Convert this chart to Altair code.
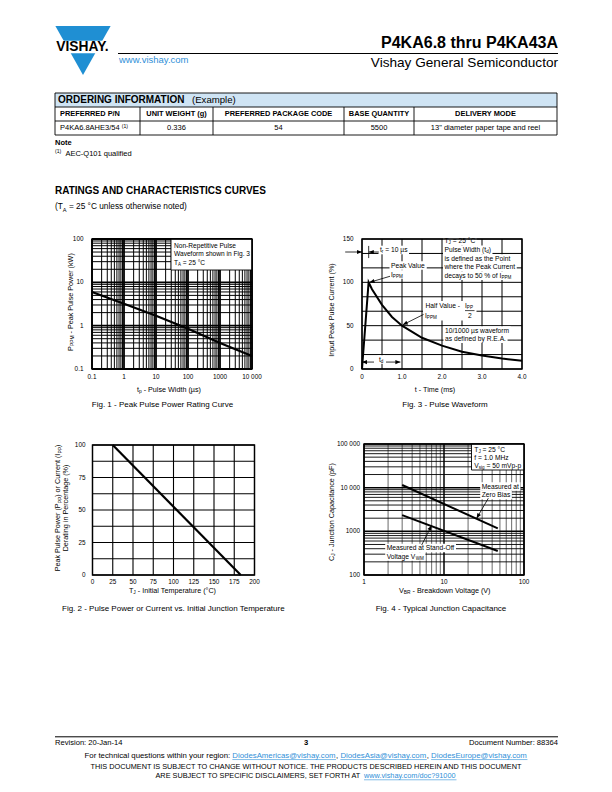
import math
import altair as alt
import pandas as pd

OX, OY = 8, 8
W, H = 596, 776
FONT = "Liberation Sans"
BLUE = "#1f8fd3"
LINK = "#2f8fd8"
HEAD = "M0,0L0.42,1L-0.42,1Z"
TRI = "M-1,-0.888L1,-0.888L0,0.888Z"

# ---------------- data ----------------
tbl_head = ["PREFERRED P/N", "UNIT WEIGHT (g)", "PREFERRED PACKAGE CODE", "BASE QUANTITY", "DELIVERY MODE"]
tbl_row = ["P4KA6.8AHE3/54", "0.336", "54", "5500", "13\" diameter paper tape and reel"]

fig1_tp = [0.1, 1, 10, 100, 1000, 10000]
fig1_ppm = [6.0, 3.2, 1.7, 0.85, 0.4, 0.2]
fig1_xt = [0.1, 1, 10, 100, 1000, 10000]
fig1_xl = ["0.1", "1", "10", "100", "1000", "10 000"]
fig1_yt = [0.1, 1, 10, 100]
fig1_yl = ["0.1", "1", "10", "100"]

fig3_t = [0, 0.165, 0.25, 0.5, 0.75, 1.0, 1.5, 2.0, 2.5, 3.0, 3.5, 4.0]
fig3_i = [0, 100, 92, 74, 60, 50, 36, 27, 20, 15.5, 12, 9.5]
fig3_xt = [0, 1, 2, 3, 4]
fig3_xl = ["0", "1.0", "2.0", "3.0", "4.0"]
fig3_yt = [0, 50, 100, 150]
fig3_yl = ["0", "50", "100", "150"]

fig2_tj = [25, 183]
fig2_pct = [100, 0]
fig2_xt = [0, 25, 50, 75, 100, 125, 150, 175, 200]
fig2_xl = ["0", "25", "50", "75", "100", "125", "150", "175", "200"]
fig2_yt = [0, 25, 50, 75, 100]
fig2_yl = ["0", "25", "50", "75", "100"]

fig4_vbr = [3, 47]
fig4_cj_zero = [11500, 1170]
fig4_cj_vwm = [2350, 355]
fig4_xt = [1, 10, 100]
fig4_xl = ["1", "10", "100"]
fig4_yt = [100, 1000, 10000, 100000]
fig4_yl = ["100", "1000", "10 000", "100 000"]

# annotation arrows (data coordinates)
f3_peak_t, f3_peak_i = [0.7, 0.19], [107, 100]
f3_half_t, f3_half_i = [1.54, 1.02], [63, 51]
f4_zero_v, f4_zero_c = [35.8, 25.6], [5720, 1990]
f4_vwm_v, f4_vwm_c = [5.26, 7.0], [487, 1352]

# ---------------- helpers ----------------
_W = {' ': 278, '!': 278, '"': 355, '%': 889, "'": 191, '(': 333, ')': 333, ',': 278, '-': 333,
      '.': 278, '/': 278, ':': 278, '=': 584, '?': 556, '@': 1015, '°': 400, 'µ': 576}
for _c in "0123456789":
    _W[_c] = 556
_W.update(dict(A=667, B=667, C=722, D=722, E=667, F=611, G=778, H=722, I=278, J=500, K=667, L=556,
               M=833, N=722, O=778, P=667, Q=778, R=722, S=667, T=611, U=722, V=667, W=944, X=667,
               Y=667, Z=611))
_W.update(dict(a=556, b=556, c=500, d=556, e=556, f=278, g=556, h=556, i=222, j=222, k=500, l=222,
               m=833, n=556, o=556, p=556, q=556, r=333, s=500, t=278, u=556, v=500, w=722, x=500,
               y=500, z=500))


def tw(s, size, bold=False):
    return sum(_W.get(c, 556) for c in s) / 1000.0 * size * (1.05 if bold else 1.0)


def one():
    return pd.DataFrame({"k": [0]})


def txt(s, x, y, size=7.0, bold=False, align="left", color="black", angle=None, baseline="middle"):
    kw = dict(text=s, font=FONT, fontSize=size, align=align, baseline=baseline, color=color)
    if bold:
        kw["fontWeight"] = "bold"
    if angle is not None:
        kw["angle"] = angle
    return alt.Chart(one()).mark_text(**kw).encode(x=alt.value(x - OX), y=alt.value(y - OY))


def hline(x0, x1, y, w=1.0, color="black"):
    return alt.Chart(one()).mark_rule(color=color, strokeWidth=w).encode(
        x=alt.value(x0 - OX), x2=alt.value(x1 - OX), y=alt.value(y - OY))


def vline(x, y0, y1, w=1.0, color="black"):
    return alt.Chart(one()).mark_rule(color=color, strokeWidth=w).encode(
        x=alt.value(x - OX), y=alt.value(y0 - OY), y2=alt.value(y1 - OY))


def rect(x0, y0, x1, y1, fill="white", stroke=None, sw=1.0, fo=1.0):
    kw = dict(fill=fill, fillOpacity=fo)
    if stroke:
        kw.update(stroke=stroke, strokeWidth=sw)
    return alt.Chart(one()).mark_rect(**kw).encode(
        x=alt.value(x0 - OX), x2=alt.value(x1 - OX), y=alt.value(y0 - OY), y2=alt.value(y1 - OY))


def rich(pieces, x, y, size=7.0, align="left", bold=False, angle=None, bg=False, under=False):
    items = []
    for p in pieces:
        if isinstance(p, str):
            p = (p, "n")
        s, mode = p[0], p[1]
        color = p[2] if len(p) > 2 else "black"
        ps = size * 0.68 if mode in ("sub", "sup") else size
        items.append((s, mode, color, ps, tw(s, ps, bold)))
    total = sum(i[4] for i in items)
    start = {"left": 0, "center": -total / 2, "right": -total}[align]
    out = []
    if bg and angle is None:
        out.append(rect(x + start - 1.5, y - size * 0.64, x + start + total + 1.5, y + size * 0.64))
    cur = start
    for s, mode, color, ps, w in items:
        off = {"n": 0, "sub": size * 0.32, "sup": -size * 0.32}[mode]
        lead = tw(s[: len(s) - len(s.lstrip(" "))], ps, bold)   # blanks are trimmed by the renderer
        core = s.strip(" ")
        cw = tw(core, ps, bold)
        if core:
            if angle is None:
                out.append(txt(core, x + cur + lead, y + off, ps, bold, "left", color))
                if under and color != "black":
                    out.append(hline(x + cur + lead, x + cur + lead + cw, y + size * 0.52, 0.6, color))
            else:
                out.append(txt(core, x + off, y - cur - lead, ps, bold, "left", color, angle=angle))
        cur += w
    return out


class Fig:
    def __init__(self, x0, x1, y0, y1, xd, yd, xt="linear", yt="linear"):
        self.x0, self.x1, self.y0, self.y1 = x0, x1, y0, y1
        self.xd, self.yd, self.xt, self.yt = xd, yd, xt, yt
        self.sx = alt.Scale(type=xt, domain=xd, range=[x0 - OX, x1 - OX], nice=False)
        self.sy = alt.Scale(type=yt, domain=yd, range=[y1 - OY, y0 - OY], nice=False)

    @staticmethod
    def _f(v, d, t):
        if t == "log":
            return (math.log10(v) - math.log10(d[0])) / (math.log10(d[1]) - math.log10(d[0]))
        return (v - d[0]) / (d[1] - d[0])

    def px(self, v):
        return self.x0 + self._f(v, self.xd, self.xt) * (self.x1 - self.x0)

    def py(self, v):
        return self.y1 - self._f(v, self.yd, self.yt) * (self.y1 - self.y0)

    def X(self, f):
        return alt.X(f, scale=self.sx, axis=None)

    def Y(self, f):
        return alt.Y(f, scale=self.sy, axis=None)

    def vgrid(self, vals, w=1.0, color="black"):
        return alt.Chart(pd.DataFrame({"v": vals})).mark_rule(color=color, strokeWidth=w).encode(
            x=self.X("v:Q"), y=alt.value(self.y0 - OY), y2=alt.value(self.y1 - OY))

    def hgrid(self, vals, w=1.0, color="black"):
        return alt.Chart(pd.DataFrame({"v": vals})).mark_rule(color=color, strokeWidth=w).encode(
            y=self.Y("v:Q"), x=alt.value(self.x0 - OX), x2=alt.value(self.x1 - OX))

    def line(self, xs, ys, w=2.0, color="black"):
        return alt.Chart(pd.DataFrame({"a": xs, "b": ys})).mark_line(color=color, strokeWidth=w).encode(
            x=self.X("a:Q"), y=self.Y("b:Q"))

    def arrow(self, xs, ys, w=0.8, L=5.0):
        dx = self.px(xs[-1]) - self.px(xs[-2])
        dy = self.py(ys[-1]) - self.py(ys[-2])
        ang = (math.degrees(math.atan2(dx, -dy)) + 360.0) % 360.0
        head = alt.Chart(pd.DataFrame({"a": [xs[-1]], "b": [ys[-1]]})).mark_point(
            shape=HEAD, filled=True, color="black", size=(2 * L) ** 2, angle=ang, opacity=1,
            strokeWidth=0).encode(x=self.X("a:Q"), y=self.Y("b:Q"))
        return [self.line(xs, ys, w), head]

    def xlab(self, vals, labs, y, size=6.4):
        return alt.Chart(pd.DataFrame({"v": vals, "l": labs})).mark_text(
            font=FONT, fontSize=size, align="center", baseline="middle", color="black").encode(
            x=self.X("v:Q"), y=alt.value(y - OY), text="l:N")

    def ylab(self, vals, labs, x, size=6.4):
        return alt.Chart(pd.DataFrame({"v": vals, "l": labs})).mark_text(
            font=FONT, fontSize=size, align="right", baseline="middle", color="black").encode(
            y=self.Y("v:Q"), x=alt.value(x - OX), text="l:N")

    def frame(self, sw=1.4):
        return rect(self.x0, self.y0, self.x1, self.y1, fill="white", stroke="black", sw=sw, fo=0)


L = []

# ---------------- header ----------------
L.append(alt.Chart(one()).mark_point(shape=TRI, filled=True, color=BLUE, size=55.2 ** 2, opacity=1,
                                     strokeWidth=0).encode(x=alt.value(83 - OX), y=alt.value(50.5 - OY)))
L.append(rect(50, 40.7, 116, 53.3))
L.append(txt("VISHAY.", 82.5, 47.3, 13.8, True, "center"))
L.append(txt("P4KA6.8 thru P4KA43A", 558, 43, 16.0, True, "right"))
L.append(hline(118, 558, 53.5, 1.0))
L.append(txt("www.vishay.com", 119, 59.5, 9.5, color=LINK))
L.append(txt("Vishay General Semiconductor", 558, 62.5, 13.6, align="right"))

# ---------------- ordering table ----------------
cols = [55, 140, 213, 344, 414, 557]
rows = [93, 107, 121, 135]
L.append(rect(55, 93, 557, 107, fill="#cfe4f4"))
for yy in rows:
    L.append(hline(55, 557, yy, 0.9))
L.append(vline(55, 93, 135, 0.9))
L.append(vline(557, 93, 135, 0.9))
for xx in cols[1:-1]:
    L.append(vline(xx, 107, 135, 0.9))
L.append(txt("ORDERING INFORMATION", 58, 100.3, 10, True))
L.append(txt("(Example)", 58 + tw("ORDERING INFORMATION", 10, True) + 1.0, 100.3, 9.6))
for ci, h in enumerate(tbl_head):
    if ci == 0:
        L.append(txt(h, 60, 114.2, 7.4, True))
    else:
        L.append(txt(h, (cols[ci] + cols[ci + 1]) / 2, 114.2, 7.4, True, "center"))
for ci, v in enumerate(tbl_row):
    if ci == 0:
        L.extend(rich([v + " ", ("(1)", "sup")], 60, 128.2, 7.5))
    else:
        L.append(txt(v, (cols[ci] + cols[ci + 1]) / 2, 128.2, 7.5, False, "center"))
L.append(txt("Note", 55, 142.5, 7.5, True))
L.extend(rich([("(1)", "sup"), "  AEC-Q101 qualified"], 55, 153.5, 7.5))

L.append(txt("RATINGS AND CHARACTERISTICS CURVES", 55, 191, 10, True))
L.extend(rich(["(T", ("A", "sub"), " = 25 °C unless otherwise noted)"], 55, 207, 8.3))

# ---------------- Fig 1 ----------------
f1 = Fig(92, 252, 239, 369, [0.1, 10000], [0.1, 100], "log", "log")
L.append(f1.vgrid([k * 10.0 ** n for n in range(-1, 4) for k in range(2, 10)], 1.0))
L.append(f1.vgrid([10.0 ** n for n in range(-1, 5)], 1.8))
L.append(f1.hgrid([k * 10.0 ** n for n in range(-1, 2) for k in range(2, 10)], 1.0))
L.append(f1.hgrid([0.1, 1, 10, 100], 1.8))
L.append(f1.line(fig1_tp, fig1_ppm, 2.2))
L.append(rect(171, 239, 252, 270, fill="white", stroke="black", sw=0.9))
L.append(txt("Non-Repetitive Pulse", 174, 245.5, 6.6))
L.append(txt("Waveform shown in Fig. 3", 174, 254.3, 6.6))
L.extend(rich(["T", ("A", "sub"), " = 25 °C"], 174, 263, 6.6))
L.append(f1.frame())
L.append(f1.xlab(fig1_xt, fig1_xl, 377))
L.append(f1.ylab(fig1_yt, fig1_yl, 83.5))
L.extend(rich(["t", ("p", "sub"), " - Pulse Width (µs)"], 169, 390, 7.2, "center"))
L.extend(rich(["P", ("PPM", "sub"), " - Peak Pulse Power (kW)"], 70.7, 302, 7.2, "center", angle=270))
L.append(txt("Fig. 1 - Peak Pulse Power Rating Curve", 162.5, 405, 8, align="center"))

# ---------------- Fig 3 ----------------
f3 = Fig(362, 522, 239, 369, [0, 4], [0, 150])
L.append(f3.vgrid([i * 0.5 for i in range(9)], 1.0))
L.append(f3.hgrid([i * 150 / 9 for i in range(10)], 1.0))
A = 6.7
L.extend(rich(["t", ("r", "sub"), " = 10 µs"], 380, 250, A, bg=True))
L.extend(rich(["Peak Value"], 391, 265.5, A, bg=True))
L.extend(rich(["I", ("PPM", "sub")], 391, 274.5, A, bg=True))
L.extend(rich(["T", ("J", "sub"), " = 25 °C"], 444.5, 241.3, A, bg=True))
L.extend(rich(["Pulse Width (t", ("d", "sub"), ")"], 444.5, 249.9, A, bg=True))
L.extend(rich(["is defined as the Point"], 444.5, 258.5, A, bg=True))
L.extend(rich(["where the Peak Current"], 444.5, 267.1, A, bg=True))
L.extend(rich(["decays to 50 % of I", ("PPM", "sub")], 444.5, 275.7, A, bg=True))
L.append(rect(423, 301, 476.5, 320.5))
L.extend(rich(["Half Value -"], 425.5, 306, A))
L.extend(rich(["I", ("PP", "sub")], 465, 305.5, A))
L.append(hline(465, 474.5, 310.6, 0.7))
L.append(txt("2", 468, 315.5, A))
L.extend(rich(["I", ("PPM", "sub")], 425, 316, A))
L.extend(rich(["10/1000 µs waveform"], 445, 330.5, A, bg=True))
L.extend(rich(["as defined by R.E.A."], 445, 338.6, A, bg=True))
L.extend(rich(["t", ("d", "sub")], 379, 359.5, A, bg=True))
L.append(f3.line(fig3_t, fig3_i, 2.0))
L.extend(f3.arrow([-0.42, 0.0], [135, 135]))
L.extend(f3.arrow([0.42, 0.17], [135, 135]))
L.append(f3.line([0.167, 0.167], [128, 142], 0.8))
L.extend(f3.arrow(f3_peak_t, f3_peak_i))
L.extend(f3.arrow(f3_half_t, f3_half_i))
L.extend(f3.arrow([0.3, 0.0], [8, 8]))
L.extend(f3.arrow([0.6, 0.96], [8, 8]))
L.append(f3.frame())
L.append(f3.xlab(fig3_xt, fig3_xl, 377))
L.append(f3.ylab(fig3_yt, fig3_yl, 353.5))
L.append(txt("t - Time (ms)", 435, 389.5, 7.2, align="center"))
L.append(txt("Input Peak Pulse Current (%)", 331.7, 310, 7.2, align="center", angle=270))
L.append(txt("Fig. 3 - Pulse Waveform", 445, 405, 8, align="center"))

# ---------------- Fig 2 ----------------
f2 = Fig(92.5, 254.5, 445, 575, [0, 200], [0, 100])
L.append(f2.vgrid(list(range(0, 201, 25)), 1.1))
L.append(f2.hgrid([i * 12.5 for i in range(9)], 1.1))
L.append(f2.line(fig2_tj, fig2_pct, 2.2))
L.append(f2.frame())
L.append(f2.xlab(fig2_xt, fig2_xl, 582))
L.append(f2.ylab(fig2_yt, fig2_yl, 85.5))
L.extend(rich(["T", ("J", "sub"), " - Initial Temperature (°C)"], 173, 591, 7.2, "center"))
L.extend(rich(["Peak Pulse Power (P", ("PP", "sub"), ") or Current (I", ("PP", "sub"), ")"],
              58.3, 508, 7.2, "center", angle=270))
L.append(txt("Derating in Percentage (%)", 65.8, 508, 7.2, align="center", angle=270))
L.append(txt("Fig. 2 - Pulse Power or Current vs. Initial Junction Temperature", 62, 609, 8))

# ---------------- Fig 4 ----------------
f4 = Fig(364, 524, 444, 575, [1, 100], [100, 100000], "log", "log")
L.append(f4.vgrid([k * 10.0 ** n for n in (0, 1) for k in range(2, 10)], 1.1, "#777777"))
L.append(f4.vgrid([1, 10, 100], 1.5))
L.append(f4.hgrid([k * 10.0 ** n for n in (2, 3, 4) for k in range(2, 10)], 0.9))
L.append(f4.hgrid([100, 1000, 10000, 100000], 1.5))
L.append(rect(471.5, 444, 524, 470, fill="white", stroke="black", sw=0.9))
L.extend(rich(["T", ("J", "sub"), " = 25 °C"], 474.3, 450, A))
L.extend(rich(["f = 1.0 MHz"], 474.3, 458, A))
L.extend(rich(["V", ("sig", "sub"), " = 50 mVp-p"], 474.3, 466, A))
L.extend(rich(["Measured at"], 481.7, 486.5, A, bg=True))
L.extend(rich(["Zero Bias"], 481.7, 495, A, bg=True))
L.extend(rich(["Measured at Stand-Off"], 386.7, 548, A, bg=True))
L.extend(rich(["Voltage V", ("WM", "sub")], 386.7, 556.5, A, bg=True))
L.append(f4.line(fig4_vbr, fig4_cj_zero, 2.0))
L.append(f4.line(fig4_vbr, fig4_cj_vwm, 2.0))
L.extend(f4.arrow(f4_zero_v, f4_zero_c))
L.extend(f4.arrow(f4_vwm_v, f4_vwm_c))
L.append(f4.frame())
L.append(f4.xlab(fig4_xt, fig4_xl, 582))
L.append(f4.ylab(fig4_yt, fig4_yl, 360))
L.extend(rich(["V", ("BR", "sub"), " - Breakdown Voltage (V)"], 445, 591, 7.2, "center"))
L.extend(rich(["C", ("J", "sub"), " - Junction Capacitance (pF)"], 331.7, 512, 7.2, "center", angle=270))
L.append(txt("Fig. 4 - Typical Junction Capacitance", 441, 609, 8, align="center"))

# ---------------- footer ----------------
L.append(hline(55, 558, 736.8, 1.0))
L.append(txt("Revision: 20-Jan-14", 55, 742.5, 7.6))
L.append(txt("3", 306, 742.5, 7.6, True, "center"))
L.append(txt("Document Number: 88364", 558, 742.5, 7.6, align="right"))
L.extend(rich(["For technical questions within your region: ",
               ("DiodesAmericas@vishay.com", "n", LINK), ", ",
               ("DiodesAsia@vishay.com", "n", LINK), ", ",
               ("DiodesEurope@vishay.com", "n", LINK)], 306, 755.5, 7.8, "center", under=True))
L.append(txt("THIS DOCUMENT IS SUBJECT TO CHANGE WITHOUT NOTICE. THE PRODUCTS DESCRIBED HEREIN AND THIS DOCUMENT",
             306, 767, 7.3, align="center"))
L.extend(rich(["ARE SUBJECT TO SPECIFIC DISCLAIMERS, SET FORTH AT ",
               ("www.vishay.com/doc?91000", "n", LINK)], 306, 776, 7.3, "center", under=True))

chart = alt.layer(*L).properties(
    width=W, height=H, padding=0, autosize=alt.AutoSizeParams(type="none")
).resolve_scale(x="independent", y="independent").configure_view(stroke=None)

chart.save("out.html", embed_options={"renderer": "svg", "actions": False})
